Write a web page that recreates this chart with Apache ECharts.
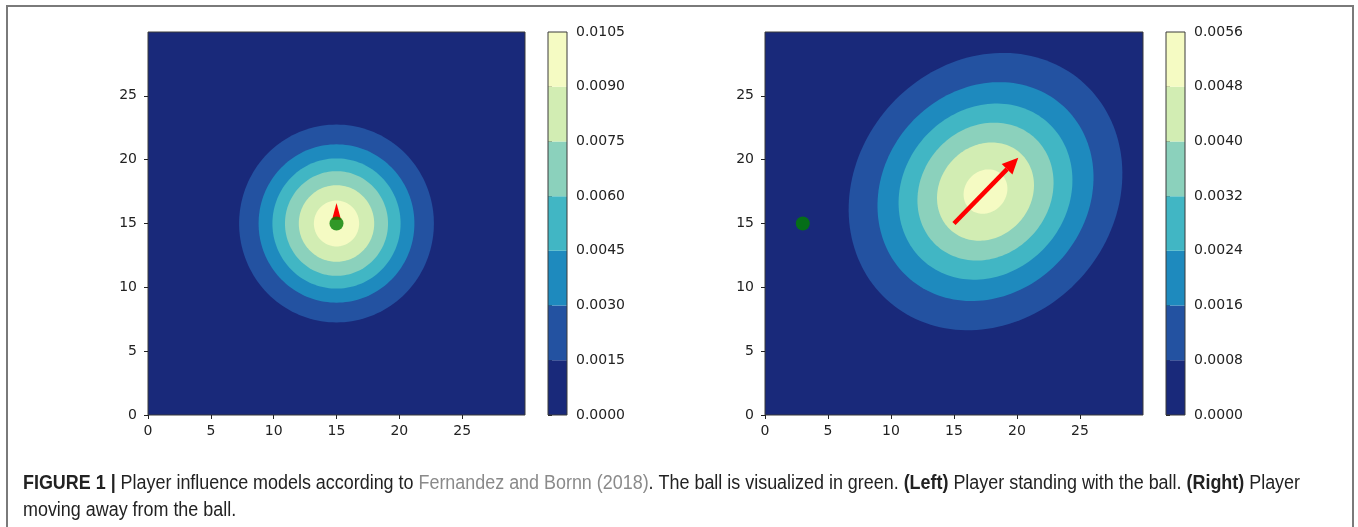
<!DOCTYPE html>
<html>
<head>
<meta charset="utf-8">
<script src="https://cdn.jsdelivr.net/npm/echarts@6/dist/echarts.min.js"></script>
<style>
html,body{margin:0;padding:0;background:#fff;}
#chart{width:1358px;height:527px;}
</style>
</head>
<body>
<div id="chart"></div>
<script>
// ---------------- data ----------------
const axisTicks = [0, 5, 10, 15, 20, 25];
const leftLevels = [0, 0.0015, 0.0030, 0.0045, 0.0060, 0.0075, 0.0090, 0.0105];
const rightLevels = [0, 0.0008, 0.0016, 0.0024, 0.0032, 0.0040, 0.0048, 0.0056];
// contour lines (levels 1..6): left = circles around the player
const leftCenter = [15, 15];
const leftRadii = [7.75, 6.2, 5.1, 4.1, 3.0, 1.8];
// right = tilted ellipses (semi axes along / across the 45° direction of motion)
const rightCenter = [17.5, 17.5];
const rightTiltDeg = 45;
const rightMajor = [11.54, 9.11, 7.33, 5.74, 4.09, 1.85];
const rightMinor = [10.14, 8.0, 6.44, 5.04, 3.59, 1.62];
// ball positions
const leftBall = [[15, 15]];
const rightBall = [[3, 15]];
// velocity arrows [x0, y0, x1, y1]
const leftArrow = [[15, 15.3, 15, 16.6]];
const rightArrow = [[15, 15, 20.1, 20.15]];
// caption
const captionLines = [
  '{b|FIGURE 1 |} Player influence models according to {g|Fernandez and Bornn (2018)}. The ball is visualized in green. {b|(Left)} Player standing with the ball. {b|(Right)} Player',
  'moving away from the ball.'
];

// ---------------- styles ----------------
const bandColors = ['#19297a', '#2352a1', '#1e8abe', '#41b6c4', '#8bd1bc', '#d2edb3', '#f5fbc3'];
const tickColor = '#222222';
const tickFont = 'DejaVu Sans';
const capFamily = 'Liberation Sans';
const capSize = 20;
const capLeft = 23, capRight = 1300;

function contourData(center, major, minor, tilt) {
  return major.map((a, i) => [center[0], center[1], a, minor[i], tilt, i + 1]);
}
function bandData(levels) {
  const out = [];
  for (let i = 0; i < levels.length - 1; i++) out.push([0, levels[i], levels[i + 1], i]);
  return out;
}
function renderEllipse(params, api) {
  const cx = api.value(0), cy = api.value(1), a = api.value(2), b = api.value(3);
  const ang = api.value(4) * Math.PI / 180, band = api.value(5);
  const pts = [];
  const N = 160;
  for (let k = 0; k < N; k++) {
    const t = 2 * Math.PI * k / N;
    const dx = a * Math.cos(t), dy = b * Math.sin(t);
    pts.push(api.coord([cx + dx * Math.cos(ang) - dy * Math.sin(ang), cy + dx * Math.sin(ang) + dy * Math.cos(ang)]));
  }
  return { type: 'polygon', shape: { points: pts }, style: { fill: bandColors[band] } };
}
function renderBand(params, api) {
  const p0 = api.coord([0, api.value(1)]);
  const p1 = api.coord([1, api.value(2)]);
  return { type: 'rect', shape: { x: p0[0], y: p1[1], width: p1[0] - p0[0], height: p0[1] - p1[1] },
    style: { fill: bandColors[api.value(3)] } };
}
function makeArrowRenderer(headOnly, headLen, headW, shaftW) {
  return function (params, api) {
    const p0 = api.coord([api.value(0), api.value(1)]);
    const p1 = api.coord([api.value(2), api.value(3)]);
    const dx = p1[0] - p0[0], dy = p1[1] - p0[1];
    const L = Math.hypot(dx, dy);
    const ux = dx / L, uy = dy / L, nx = -uy, ny = ux;
    if (headOnly) {
      return { type: 'polygon', shape: { points: [p1, [p0[0] + nx * headW / 2, p0[1] + ny * headW / 2], [p0[0] - nx * headW / 2, p0[1] - ny * headW / 2]] },
        style: { fill: '#ff0000' } };
    }
    const bx = p1[0] - ux * headLen, by = p1[1] - uy * headLen;
    return { type: 'group', children: [
      { type: 'polygon', shape: { points: [
        [p0[0] + nx * shaftW / 2, p0[1] + ny * shaftW / 2], [bx + nx * shaftW / 2, by + ny * shaftW / 2],
        [bx - nx * shaftW / 2, by - ny * shaftW / 2], [p0[0] - nx * shaftW / 2, p0[1] - ny * shaftW / 2]] },
        style: { fill: '#ff0000' } },
      { type: 'polygon', shape: { points: [p1, [bx + nx * headW / 2, by + ny * headW / 2], [bx - nx * headW / 2, by - ny * headW / 2]] },
        style: { fill: '#ff0000' } }
    ] };
  };
}
// horizontal condensing factor so that the first caption line spans capLeft..capRight
function captionScale() {
  const ctx = document.createElement('canvas').getContext('2d');
  const re = /\{(\w)\|([^}]*)\}|([^{]+)/g;
  let m, w = 0;
  while ((m = re.exec(captionLines[0])) !== null) {
    const bold = m[1] === 'b';
    const txt = m[2] !== undefined ? m[2] : m[3];
    ctx.font = (bold ? 'bold ' : '') + capSize + 'px "' + capFamily + '"';
    w += ctx.measureText(txt).width;
  }
  return Math.min(1, (capRight - capLeft) / w);
}

const chart = echarts.init(document.getElementById('chart'), null, { renderer: 'canvas' });

const plotGrid = (left, width) => ({ left: left, top: 32, width: width, height: 383, show: true,
  backgroundColor: bandColors[0], borderColor: '#3a3a3a', borderWidth: 1, containLabel: false });
const cbGrid = (left) => ({ left: left, top: 32, width: 19, height: 383, show: true,
  backgroundColor: 'transparent', borderColor: '#3a3a3a', borderWidth: 1, z: 5 });

const plotX = (gi) => ({ gridIndex: gi, type: 'value', min: 0, max: 30,
  axisLine: { show: false }, splitLine: { show: false },
  axisTick: { show: true, length: 4, lineStyle: { color: tickColor }, customValues: axisTicks },
  axisLabel: { customValues: axisTicks, color: tickColor, fontFamily: tickFont, fontSize: 14, margin: 9 } });
const plotY = (gi) => ({ gridIndex: gi, type: 'value', min: 0, max: 30,
  axisLine: { show: false }, splitLine: { show: false },
  axisTick: { show: true, length: 4, lineStyle: { color: tickColor }, customValues: axisTicks },
  axisLabel: { customValues: axisTicks, color: tickColor, fontFamily: tickFont, fontSize: 14, margin: 11 } });
const cbX = (gi) => ({ gridIndex: gi, type: 'value', min: 0, max: 1, show: false });
const cbY = (gi, levels) => ({ gridIndex: gi, type: 'value', position: 'right',
  min: levels[0], max: levels[levels.length - 1], interval: levels[1] - levels[0],
  axisLine: { show: false }, splitLine: { show: false },
  axisTick: { show: true, length: 4, lineStyle: { color: tickColor } },
  axisLabel: { color: tickColor, fontFamily: tickFont, fontSize: 14, margin: 9,
    formatter: v => Number(v).toFixed(4) } });

const sx = captionScale();

chart.setOption({
  animation: false,
  backgroundColor: '#ffffff',
  grid: [plotGrid(148, 377), cbGrid(548), plotGrid(765, 378), cbGrid(1166)],
  xAxis: [plotX(0), cbX(1), plotX(2), cbX(3)],
  yAxis: [plotY(0), cbY(1, leftLevels), plotY(2), cbY(3, rightLevels)],
  graphic: [
    { type: 'rect', x: 7, y: 6, shape: { width: 1346, height: 560 }, silent: true,
      style: { fill: 'transparent', stroke: '#7a7a7a', lineWidth: 2 } },
    { type: 'text', x: capLeft, y: 470, scaleX: sx, scaleY: 1, silent: true,
      style: { text: captionLines.join('\n'), fill: '#222', fontFamily: capFamily, fontSize: capSize, lineHeight: 27,
        rich: { b: { fontWeight: 'bold', fontSize: capSize, fontFamily: capFamily, fill: '#222', lineHeight: 27 },
                g: { fill: '#8a8a8a', fontSize: capSize, fontFamily: capFamily, lineHeight: 27 } } } }
  ],
  series: [
    { type: 'custom', xAxisIndex: 0, yAxisIndex: 0, z: 2, silent: true, renderItem: renderEllipse,
      encode: { x: 0, y: 1 }, data: contourData(leftCenter, leftRadii, leftRadii, 0) },
    { type: 'custom', xAxisIndex: 0, yAxisIndex: 0, z: 3, silent: true, renderItem: makeArrowRenderer(true, 0, 9, 0),
      encode: { x: 0, y: 1 }, data: leftArrow },
    { type: 'scatter', xAxisIndex: 0, yAxisIndex: 0, z: 4, silent: true, symbol: 'circle', symbolSize: 14,
      itemStyle: { color: '#008000' }, data: leftBall },
    { type: 'custom', xAxisIndex: 1, yAxisIndex: 1, z: 2, silent: true, renderItem: renderBand,
      encode: { x: 0, y: 1 }, data: bandData(leftLevels) },

    { type: 'custom', xAxisIndex: 2, yAxisIndex: 2, z: 2, silent: true, renderItem: renderEllipse,
      encode: { x: 0, y: 1 }, data: contourData(rightCenter, rightMajor, rightMinor, rightTiltDeg) },
    { type: 'custom', xAxisIndex: 2, yAxisIndex: 2, z: 3, silent: true, renderItem: makeArrowRenderer(false, 16, 15, 4.5),
      encode: { x: 0, y: 1 }, data: rightArrow },
    { type: 'scatter', xAxisIndex: 2, yAxisIndex: 2, z: 4, silent: true, symbol: 'circle', symbolSize: 14,
      itemStyle: { color: '#008000' }, data: rightBall },
    { type: 'custom', xAxisIndex: 3, yAxisIndex: 3, z: 2, silent: true, renderItem: renderBand,
      encode: { x: 0, y: 1 }, data: bandData(rightLevels) }
  ]
});
</script>
</body>
</html>
